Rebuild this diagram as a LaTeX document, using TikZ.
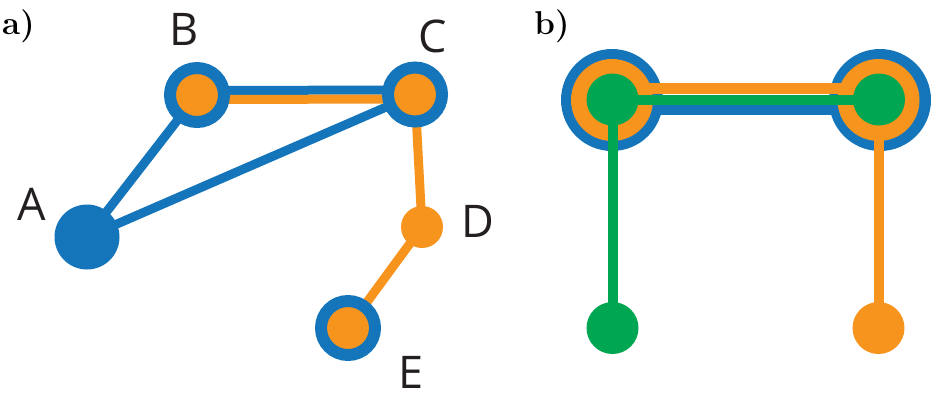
\documentclass[tikz,border=0pt]{standalone}
\usepackage{fontspec}
\newfontfamily\lblfont{Open Sans}
\definecolor{cblue}{HTML}{1575BB}
\definecolor{corange}{HTML}{F7941D}
\definecolor{cgreen}{HTML}{00A651}
\definecolor{ink}{HTML}{231F20}
\begin{document}
\begin{tikzpicture}[x=1pt,y=-1pt,
  lbl/.style={font=\lblfont\fontsize{45}{50}\selectfont, text=ink, anchor=base, inner sep=0pt},
  panel/.style={font=\fontsize{33}{36}\selectfont\bfseries, text=black, anchor=base, inner sep=0pt},
  ring/.style={circle, inner sep=0pt, minimum size=54pt, line width=12pt, draw=cblue, fill=corange},
  dot/.style={circle, inner sep=0pt, minimum size=#1},
  bedge/.style={draw=cblue, line width=9pt},
  oedge/.style={draw=corange, line width=9pt}]
\useasboundingbox (0,0) rectangle (934,400);

% ---------- panel a ----------
\node[panel] (pa) at (18.5,34) {a)};
\coordinate (A) at (87,237);
\coordinate (B) at (197,95);
\coordinate (C) at (415,94.5);
\coordinate (D) at (422,227);
\coordinate (E) at (348,328);

\draw[bedge] (A) -- (B);
\draw[bedge] (A) -- (C);
\draw[bedge] ([yshift=4.5pt]B) -- ([yshift=4.5pt]C);
\draw[oedge] ([yshift=-4.5pt]B) -- ([yshift=-4.5pt]C);
\draw[oedge] (C) -- (D);
\draw[oedge] (D) -- (E);

\node[dot=65pt, fill=cblue] (nA) at (A) {};
\node[ring] (nB) at (B) {};
\node[ring] (nC) at (C) {};
\node[dot=42pt, fill=corange] (nD) at (D) {};
\node[ring] (nE) at (E) {};

\node[lbl] (lA) at (32,220) {A};
\node[lbl] (lB) at (184,45) {B};
\node[lbl] (lC) at (433,52) {C};
\node[lbl] (lD) at (478,237) {D};
\node[lbl] (lE) at (411,388) {E};

% ---------- panel b ----------
\node[panel] (pb) at (552,34) {b)};
% blue layer
\node[dot=102pt, fill=cblue] (Lb) at (612,100) {};
\node[dot=102pt, fill=cblue] (Rb) at (880,100) {};
\draw[draw=cblue, line width=11pt] ([yshift=-9.7pt]Lb.center) -- ([yshift=-9.7pt]Rb.center);
% orange layer
\node[dot=82pt, fill=corange] (Lo) at (612,100) {};
\node[dot=82pt, fill=corange] (Ro) at (878.5,100) {};
\draw[draw=corange, line width=11.6pt] ([yshift=11.5pt]Lo.center) -- ([yshift=11.5pt]Ro.center);
\node[dot=52pt, fill=corange] (Bo) at (878.5,328) {};
\draw[draw=corange, line width=10pt] (Ro.center) -- (Bo.center);
% green layer
\node[dot=52pt, fill=cgreen] (Lg) at (612.5,99.5) {};
\node[dot=52pt, fill=cgreen] (Rg) at (879,99.5) {};
\draw[draw=cgreen, line width=10pt] (Lg.center) -- (Rg.center);
\node[dot=52pt, fill=cgreen] (Bg) at (612.5,328) {};
\draw[draw=cgreen, line width=10pt] (Lg.center) -- (Bg.center);
\end{tikzpicture}
\end{document}
